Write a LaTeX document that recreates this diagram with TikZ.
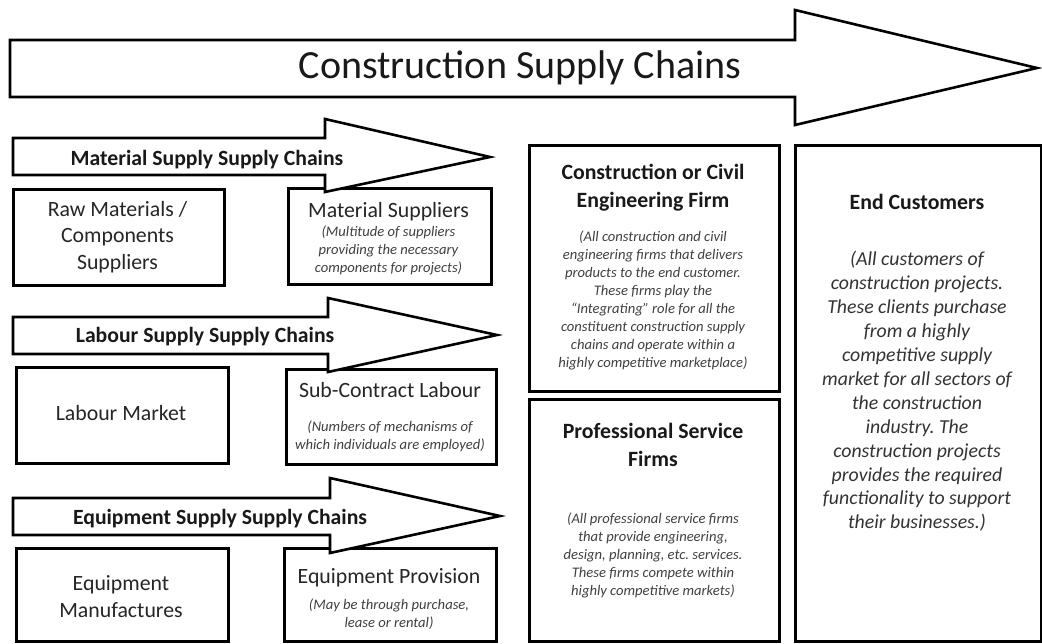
\documentclass[tikz,border=0pt]{standalone}
\usepackage{fontspec}
\setmainfont{Carlito}
\frenchspacing
\begin{document}
\begin{tikzpicture}[x=1pt,y=-1pt,
  box/.style={draw=black, line width=2.6pt, fill=white, anchor=north west, inner sep=0pt},
  blockarrow/.style={draw=black, line width=2.6pt, fill=white, line join=miter},
  arrowtext/.style={font=\fontsize{21.7}{24}\selectfont\bfseries, text=black!90, inner sep=0pt},
  main/.style={font=\fontsize{21.8}{26.5}\selectfont, text=black!85, align=center, inner sep=0pt},
  title/.style={font=\fontsize{21.8}{28}\selectfont\bfseries, text=black!90, align=center, inner sep=0pt},
  note/.style={font=\fontsize{14.6}{18}\selectfont\itshape, text=black!75, align=center, inner sep=0pt},
  bignote/.style={font=\fontsize{19.8}{23.9}\selectfont\itshape, text=black!80, align=center, inner sep=0pt}]
\useasboundingbox (0,0) rectangle (1042,644);
\fill[white] (0,0) rectangle (1042,644);

% main chain arrow
\draw[blockarrow] (10,40) -- (795,40) -- (795,10) -- (1037,68) -- (795,125) -- (795,97) -- (10,97) -- cycle;
\node[font=\fontsize{40}{44}\selectfont, text=black!90, inner sep=0pt] (chain) at (520,68) {Construction Supply Chains};

% boxes of the three feeder chains
\node[box, minimum width=211pt, minimum height=96pt] (raw) at (12,188) {};
\node[box, minimum width=203pt, minimum height=96pt] (mats) at (287,187) {};
\node[box, minimum width=212pt, minimum height=96pt] (labm) at (15,366) {};
\node[box, minimum width=210pt, minimum height=95pt] (sub) at (285,368) {};
\node[box, minimum width=212pt, minimum height=93pt] (eqm) at (15,547) {};
\node[box, minimum width=212pt, minimum height=93pt] (eqp) at (283,547) {};

% firms and customers
\node[box, minimum width=250pt, minimum height=246pt] (cons) at (528,144) {};
\node[box, minimum width=250pt, minimum height=242pt] (prof) at (528,398) {};
\node[box, minimum width=246pt, minimum height=496pt] (endc) at (794,144) {};

% feeder chain arrows, drawn over the box tops
\draw[blockarrow] (13,138) -- (325,138) -- (325,119) -- (490,157) -- (325,192) -- (325,175) -- (13,175) -- cycle;
\node[arrowtext] (matchain) at (207,160) {Material Supply Supply Chains};
\draw[blockarrow] (13,317) -- (328,317) -- (328,298) -- (497,335) -- (328,372) -- (328,354) -- (13,354) -- cycle;
\node[arrowtext] (labchain) at (205,337) {Labour Supply Supply Chains};
\draw[blockarrow] (13,498) -- (330,498) -- (330,478) -- (500,516) -- (330,553) -- (330,535) -- (13,535) -- cycle;
\node[arrowtext] (eqchain) at (220,519) {Equipment Supply Supply Chains};

% box texts
\node[main] (rawt) at (117.5,237) {Raw Materials /\\Components\\Suppliers};
\node[main] (matst) at (388.5,212) {Material Suppliers};
\node[note] (matsn) at (388.5,250) {(Multitude of suppliers\\providing the necessary\\components for projects)};
\node[main] (labmt) at (121,413) {Labour Market};
\node[main] (subt) at (390,390) {Sub-Contract Labour};
\node[note] (subn) at (390,436) {(Numbers of mechanisms of\\which individuals are employed)};
\node[main] (eqmt) at (121,596.5) {Equipment\\Manufactures};
\node[main] (eqpt) at (389,578) {Equipment Provision};
\node[note] (eqpn) at (389,614) {(May be through purchase,\\lease or rental)};

\node[title] (const) at (653,187.5) {Construction or Civil\\Engineering Firm};
\node[note] (consn) at (653,300) {(All construction and civil\\engineering firms that delivers\\products to the end customer.\\These firms play the\\``Integrating'' role for all the\\constituent construction supply\\chains and operate within a\\highly competitive marketplace)};
\node[title] (proft) at (653,445) {Professional Service\\Firms};
\node[note] (profn) at (653,555) {(All professional service firms\\that provide engineering,\\design, planning, etc. services.\\These firms compete within\\highly competitive markets)};
\node[title] (endt) at (917,202) {End Customers};
\node[bignote] (endn) at (917,391.5) {(All customers of\\construction projects.\\These clients purchase\\from a highly\\competitive supply\\market for all sectors of\\the construction\\industry. The\\construction projects\\provides the required\\functionality to support\\their businesses.)};
\end{tikzpicture}
\end{document}
